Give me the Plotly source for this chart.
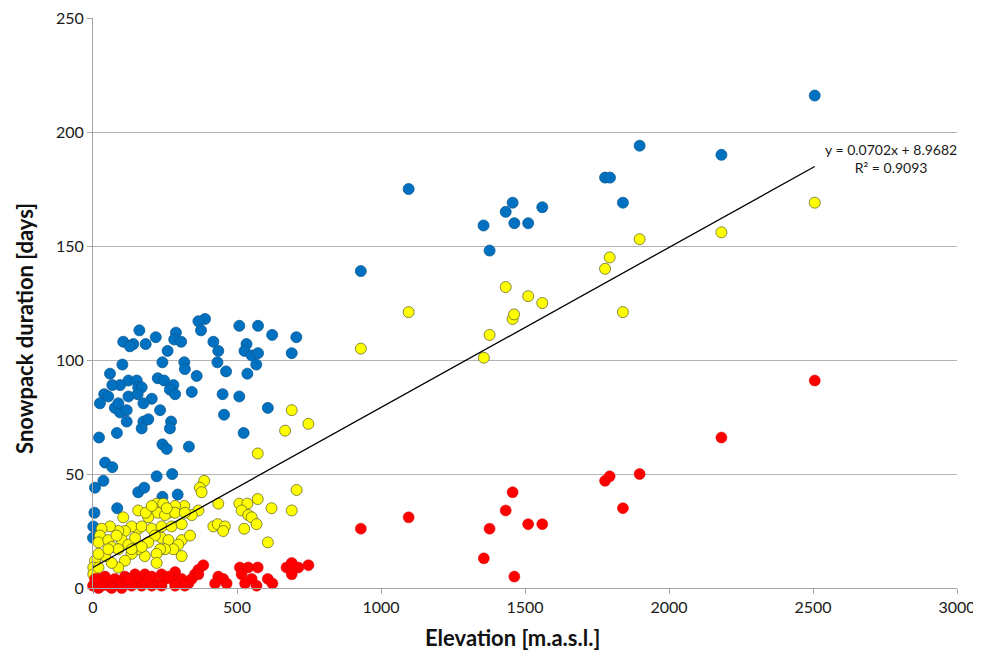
import plotly.graph_objects as go

# ---- data ----
blue_x = [389,366,375,508,573,622,706,690,533,526,551,573,567,536,
          418,435,432,462,450,508,607,455,523,
          161,218,288,282,306,105,140,128,183,259,
          102,241,317,319,360,59,225,247,279,267,
          285,343,123,152,157,169,94,67,39,53,
          24,123,155,204,175,76,94,117,88,233,
          117,175,192,169,271,267,21,83,241,256,
          333,42,67,36,7,221,275,157,178,241,
          294,5,84,1,0,
          930,1096,1356,1377,1433,1457,1463,1511,1560,1778,1795,1840,1898,2182,2506]
blue_y = [118,117,113,115,115,111,110,103,107,104,102,103,98,94,
          108,104,99,95,85,84,79,76,68,
          113,110,112,109,108,108,107,106,107,104,
          98,99,99,96,93,94,92,91,89,87,
          85,86,91,91,88,88,89,89,85,84,
          81,84,85,83,81,79,77,78,81,78,
          73,73,74,70,73,70,66,68,63,61,
          62,55,53,47,44,49,50,42,44,40,
          41,33,35,27,22,
          139,175,159,148,165,169,160,160,167,180,180,169,194,190,216]

yellow_x = [690,667,748,572,707,690,607,
            386,371,377,435,508,536,572,620,516,539,551,568,525,418,433,458,452,
            366,343,317,285,262,221,244,224,192,157,183,105,157,134,111,88,59,30,
            24,19,53,65,100,123,146,169,204,238,273,308,238,262,308,337,296,279,
            308,250,233,221,221,180,157,134,111,88,65,42,7,1,1,19,215,192,169,134,
            88,53,250,285,319,256,204,82,19,
            930,1096,1357,1377,1433,1457,1462,1511,1560,1778,1794,1840,1898,2182,2506]
yellow_y = [78,69,72,59,43,34,20,
            47,44,42,37,37,37,39,35,34,32,31,28,26,27,28,27,25,
            34,32,36,36,33,37,37,33,31,34,33,31,26,27,25,25,27,26,
            23,20,21,18,21,19,22,27,26,27,27,28,22,21,21,23,19,17,
            14,17,17,15,11,14,17,15,12,9,11,14,12,9,6,15,23,20,18,17,
            17,17,32,33,33,35,36,23,9,
            105,121,101,111,132,118,120,128,125,140,145,121,153,156,169]

red_x = [383,366,354,510,539,572,516,551,568,528,607,623,672,690,713,748,690,
         435,452,424,464,285,238,180,146,111,76,42,19,0,19,53,88,123,157,192,
         215,250,273,308,331,343,319,285,238,204,169,134,100,65,30,7,262,204,123,366,
         930,1096,1357,1377,1433,1457,1463,1511,1560,1778,1794,1840,1898,2182,2506]
red_y = [10,8,6,9,9,9,6,4,1,2,4,2,9,11,9,10,6,
         5,4,2,2,7,6,6,6,5,4,5,4,1,0,1,2,2,3,4,
         2,4,4,4,2,4,1,1,1,1,1,1,0,0,1,4,5,5,4,6,
         26,31,13,26,34,42,5,28,28,47,49,35,50,66,91]

# trend line from the equation shown on the chart
slope = 0.0702
intercept = 8.9682
r2 = 0.9093
trend_x = [0, max(blue_x)]
trend_y = [slope * v + intercept for v in trend_x]

x_ticks = [0, 500, 1000, 1500, 2000, 2500, 3000]
y_ticks = [0, 50, 100, 150, 200, 250]

x_title = "<b>Elevation [m.a.s.l.]</b>"
y_title = "<b>Snowpack duration [days]</b>"

FONT = "Lato, 'Open Sans', sans-serif"

fig = go.Figure()
mk = dict(size=11)
fig.add_trace(go.Scatter(x=blue_x, y=blue_y, mode="markers", cliponaxis=False,
                         marker=dict(color="#0070C0", line=dict(color="#0A5A95", width=0.8), **mk)))
fig.add_trace(go.Scatter(x=yellow_x, y=yellow_y, mode="markers", cliponaxis=False,
                         marker=dict(color="#FFFF00", line=dict(color="#6B6B2A", width=0.8), **mk)))
fig.add_trace(go.Scatter(x=red_x, y=red_y, mode="markers", cliponaxis=False,
                         marker=dict(color="#FF0000", line=dict(color="#D00000", width=0.5), **mk)))
fig.add_trace(go.Scatter(x=trend_x, y=trend_y, mode="lines", cliponaxis=False,
                         line=dict(color="black", width=1.3)))

fig.add_annotation(x=trend_x[1], y=trend_y[1], xref="x", yref="y", xanchor="left", yanchor="middle",
                   xshift=8, yshift=8, showarrow=False, align="center",
                   text=f"y = {slope}x + {intercept}<br>R² = {r2}",
                   font=dict(family=FONT, size=14, color="#1a1a1a"))

# axis titles placed as annotations (Excel-style offsets)
fig.add_annotation(x=0.485, y=-0.086, xref="paper", yref="paper", xanchor="center", yanchor="middle",
                   showarrow=False, text=x_title, font=dict(family=FONT, size=22, color="#111111"))
fig.add_annotation(x=-0.08, y=0.456, xref="paper", yref="paper", xanchor="center", yanchor="middle",
                   showarrow=False, textangle=-90, text=y_title,
                   font=dict(family=FONT, size=22, color="#111111"))

# the page body adds an 8px offset, so the figure is sized/margined to compensate
fig.update_layout(
    width=973, height=645,
    margin=dict(l=85, r=24, t=10, b=65, autoexpand=False),
    paper_bgcolor="white", plot_bgcolor="white",
    showlegend=False,
    font=dict(family=FONT, size=16, color="#1a1a1a"),
)
fig.update_xaxes(range=[0, 3000], tickvals=x_ticks, showgrid=False, automargin=False,
                 showline=True, linecolor="#a6a6a6", linewidth=1,
                 ticks="outside", ticklen=5, tickcolor="#a6a6a6",
                 zeroline=False, ticklabeloverflow="allow",
                 tickfont=dict(size=16))
fig.update_yaxes(range=[0, 250], tickvals=y_ticks, showgrid=True, gridcolor="#b3b3b3", gridwidth=1,
                 automargin=False,
                 showline=True, linecolor="#a6a6a6", linewidth=1,
                 ticks="outside", ticklen=5, tickcolor="#a6a6a6",
                 zeroline=False, ticklabeloverflow="allow",
                 tickfont=dict(size=16))

fig.write_html("out.html")
